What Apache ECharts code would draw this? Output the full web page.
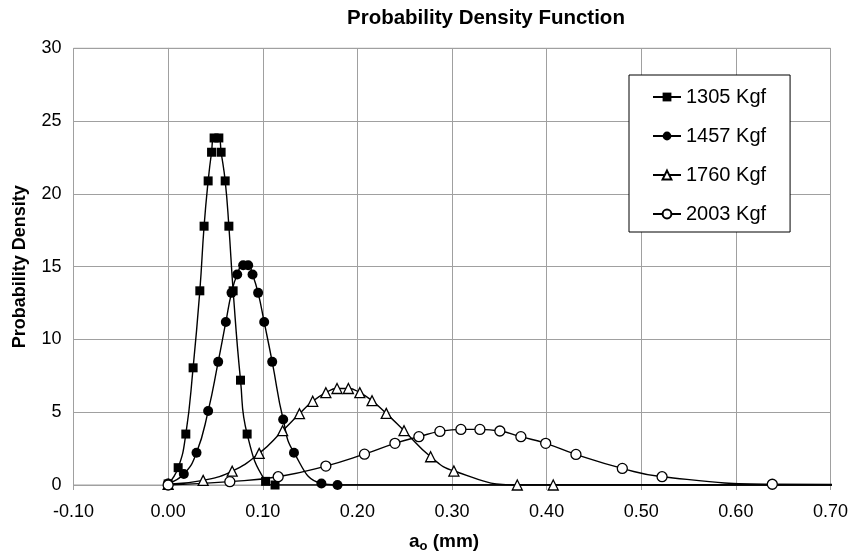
<!DOCTYPE html>
<html><head><meta charset="utf-8">
<script src="https://cdn.jsdelivr.net/npm/echarts@6/dist/echarts.min.js"></script>
<style>html,body{margin:0;padding:0;background:#fff}#c{width:851px;height:558px}</style>
</head><body><div id="c"></div>
<script>
const seriesNames = ['1305 Kgf', '1457 Kgf', '1760 Kgf', '2003 Kgf'];

const x1305 = [0.000, 0.0106, 0.0187, 0.0264, 0.0335, 0.0380, 0.0423, 0.0459, 0.0486, 0.0536, 0.0560, 0.0603, 0.0642, 0.0687, 0.0765, 0.0835, 0.1030, 0.1130, 0.80];
const y1305 = [0.07, 1.19, 3.50, 8.05, 13.34, 17.78, 20.89, 22.86, 23.84, 23.84, 22.86, 20.89, 17.78, 13.34, 7.20, 3.50, 0.25, 0.00, 0.00];

const x1457 = [0.000, 0.0166, 0.0300, 0.0423, 0.0529, 0.0610, 0.0670, 0.0730, 0.0793, 0.0846, 0.0892, 0.0951, 0.1015, 0.1100, 0.1216, 0.1330, 0.1620, 0.1790, 0.80];
const y1457 = [0.10, 0.75, 2.22, 5.08, 8.46, 11.20, 13.20, 14.46, 15.10, 15.10, 14.46, 13.20, 11.20, 8.46, 4.50, 2.22, 0.10, 0.00, 0.00];

const x1760 = [0.000, 0.0370, 0.0677, 0.0962, 0.1210, 0.1388, 0.1528, 0.1667, 0.1785, 0.1905, 0.2026, 0.2155, 0.2305, 0.2493, 0.2774, 0.3020, 0.3690, 0.4070, 0.80];
const y1760 = [0.05, 0.32, 0.95, 2.17, 3.73, 4.90, 5.75, 6.34, 6.63, 6.63, 6.34, 5.79, 4.92, 3.73, 1.94, 0.96, 0.00, 0.00, 0.00];

const x2003 = [0.000, 0.0652, 0.1163, 0.1667, 0.2075, 0.2397, 0.2650, 0.2872, 0.3094, 0.3295, 0.3506, 0.3728, 0.3990, 0.4310, 0.4800, 0.5220, 0.6385, 0.80];
const y2003 = [0.00, 0.23, 0.57, 1.30, 2.12, 2.86, 3.32, 3.68, 3.82, 3.82, 3.71, 3.32, 2.86, 2.10, 1.14, 0.57, 0.05, 0.00];

const xTicks = [-0.10, 0.00, 0.10, 0.20, 0.30, 0.40, 0.50, 0.60, 0.70];
const yTicks = [0, 5, 10, 15, 20, 25, 30];

const FONT = '"Liberation Sans", Arial, Helvetica, sans-serif';
const GRID = '#a0a0a0';

function pairs(xs, ys) { return xs.map((x, i) => [x, ys[i]]); }

const styles = [
  { symbol: 'rect', size: 9, fill: '#000' },
  { symbol: 'circle', size: 10, fill: '#000' },
  { symbol: 'triangle', size: 10, fill: '#fff' },
  { symbol: 'circle', size: 10, fill: '#fff' }
];
const allData = [pairs(x1305, y1305), pairs(x1457, y1457), pairs(x1760, y1760), pairs(x2003, y2003)];

const chart = echarts.init(document.getElementById('c'), null, { renderer: 'canvas' });
chart.setOption({
  animation: false,
  backgroundColor: '#fff',
  textStyle: { fontFamily: FONT, color: '#000' },
  title: {
    text: 'Probability Density Function',
    left: 342, top: 3,
    textStyle: { fontFamily: FONT, fontSize: 20.5, fontWeight: 'bold', color: '#000' }
  },
  legend: {
    data: seriesNames,
    orient: 'vertical',
    left: 629, top: 75,
    padding: [12, 24, 8, 23],
    itemGap: 19,
    itemWidth: 28, itemHeight: 11,
    borderColor: '#000', borderWidth: 1,
    backgroundColor: '#fff',
    selectedMode: false,
    textStyle: { fontFamily: FONT, fontSize: 20, lineHeight: 20, color: '#000' }
  },
  grid: {
    left: 73.5, right: 20.5, top: 48.3, bottom: 73,
    show: true, borderColor: GRID, borderWidth: 1,
    containLabel: false, outerBoundsMode: 'none'
  },
  xAxis: {
    type: 'value',
    min: xTicks[0], max: xTicks[xTicks.length - 1], interval: 0.1,
    axisLine: { show: true, onZero: false, lineStyle: { color: GRID, width: 1 } },
    axisTick: { show: true, length: 5, lineStyle: { color: GRID } },
    splitLine: { show: true, lineStyle: { color: GRID, width: 1 } },
    axisLabel: { fontFamily: FONT, fontSize: 18, color: '#000', margin: 18,
      formatter: v => Number(v).toFixed(2) },
    name: '{a|a}{s|o}{a| (mm)}',
    nameLocation: 'middle', nameGap: 46,
    nameTextStyle: {
      padding: [0, 16, 0, 0],
      rich: {
        a: { fontFamily: FONT, fontSize: 19, fontWeight: 'bold', color: '#000', lineHeight: 22 },
        s: { fontFamily: FONT, fontSize: 13, fontWeight: 'bold', color: '#000', lineHeight: 14, verticalAlign: 'bottom' }
      }
    }
  },
  yAxis: {
    type: 'value',
    min: yTicks[0], max: yTicks[yTicks.length - 1], interval: 5,
    axisLine: { show: true, lineStyle: { color: GRID, width: 1 } },
    axisTick: { show: true, length: 5, lineStyle: { color: GRID } },
    splitLine: { show: true, lineStyle: { color: GRID, width: 1 } },
    axisLabel: { fontFamily: FONT, fontSize: 18, color: '#000', margin: 12 },
    name: 'Probability Density',
    nameLocation: 'middle', nameGap: 44, nameRotate: 90,
    nameTextStyle: { fontFamily: FONT, fontSize: 18, fontWeight: 'bold', color: '#000' }
  },
  series: seriesNames.map((n, i) => ({
    name: n,
    type: 'line',
    data: allData[i],
    smooth: 0.5,
    clip: true,
    symbol: styles[i].symbol,
    symbolSize: styles[i].size,
    showAllSymbol: true,
    lineStyle: { color: '#000', width: 1.4 },
    itemStyle: { color: styles[i].fill, borderColor: '#000', borderWidth: styles[i].fill === '#fff' ? 1.3 : 0 },
    emphasis: { disabled: true }
  }))
});
</script>
</body></html>
